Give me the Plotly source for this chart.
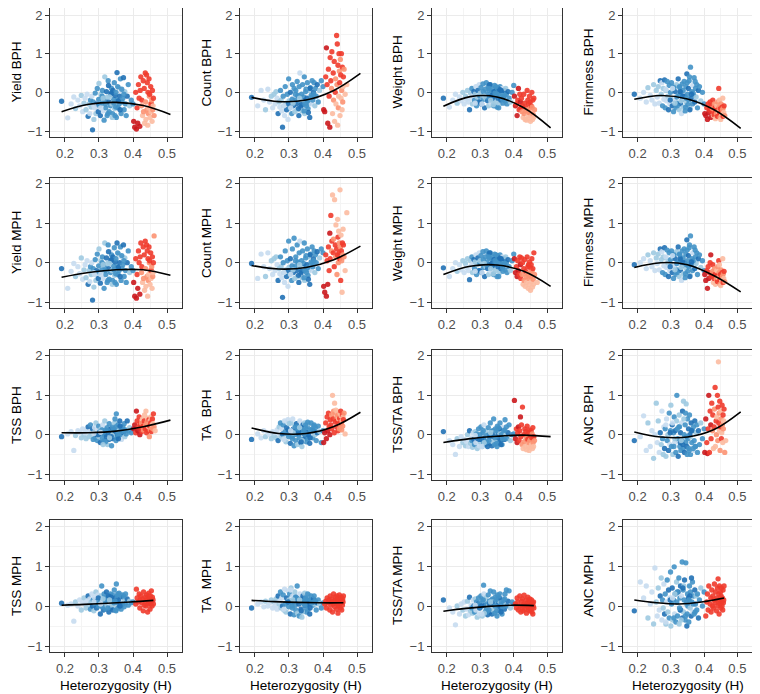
import plotly.graph_objects as go

# heterozygosity of the two groups (shared by all panels)
blue_x = [
    0.190, 0.208, 0.218, 0.226, 0.231, 0.238, 0.243, 0.248, 0.252, 0.256,
    0.259, 0.262, 0.265, 0.268, 0.271, 0.273, 0.275, 0.277, 0.279, 0.281,
    0.283, 0.285, 0.287, 0.289, 0.291, 0.293, 0.295, 0.297, 0.299, 0.300,
    0.302, 0.304, 0.306, 0.308, 0.310, 0.311, 0.313, 0.315, 0.317, 0.318,
    0.320, 0.322, 0.324, 0.325, 0.327, 0.329, 0.330, 0.332, 0.334, 0.335,
    0.337, 0.338, 0.340, 0.341, 0.343, 0.345, 0.346, 0.348, 0.350, 0.351,
    0.353, 0.354, 0.356, 0.358, 0.359, 0.361, 0.363, 0.365, 0.366, 0.368,
    0.370, 0.372, 0.374, 0.376, 0.378, 0.380, 0.383, 0.386, 0.390, 0.395,
    0.298, 0.309, 0.319, 0.328, 0.339, 0.349, 0.357, 0.367, 0.285, 0.312,
    0.326, 0.336, 0.344, 0.355, 0.362, 0.331, 0.305, 0.347, 0.373, 0.400,
]
blue_shade = [
    4, 1, 1, 1, 2, 1, 1, 2, 1, 2,
    1, 2, 1, 4, 2, 1, 3, 2, 1, 4,
    3, 2, 1, 3, 2, 4, 3, 1, 3, 2,
    3, 4, 2, 3, 3, 1, 4, 3, 2, 3,
    3, 4, 3, 2, 3, 4, 3, 1, 3, 4,
    3, 2, 3, 4, 3, 3, 2, 4, 3, 3,
    4, 3, 3, 2, 3, 4, 3, 3, 1, 3,
    3, 4, 3, 2, 3, 3, 4, 3, 2, 3,
    4, 3, 3, 4, 2, 3, 4, 3, 1, 2,
    3, 4, 3, 3, 4, 2, 1, 3, 3, 3,
]
red_x = [
    0.402, 0.405, 0.408, 0.410, 0.412, 0.414, 0.416, 0.418, 0.420, 0.421,
    0.423, 0.425, 0.426, 0.428, 0.430, 0.431, 0.433, 0.434, 0.436, 0.437,
    0.438, 0.440, 0.441, 0.442, 0.443, 0.444, 0.445, 0.446, 0.447, 0.448,
    0.449, 0.450, 0.451, 0.452, 0.453, 0.454, 0.455, 0.456, 0.457, 0.458,
    0.459, 0.460, 0.462, 0.465, 0.470,
]
red_shade = [
    4, 4, 3, 4, 3, 4, 3, 3, 4, 3,
    3, 2, 3, 1, 3, 2, 3, 1, 3, 2,
    1, 3, 2, 3, 1, 3, 2, 1, 3, 2,
    3, 1, 2, 3, 1, 3, 2, 1, 3, 2,
    1, 3, 2, 1, 1,
]

yield_bph_blue = [
    -0.23, -0.66, -0.30, -0.12, -0.42, -0.20, -0.35, -0.08, -0.50, -0.28,
    -0.15, -0.45, -0.05, -0.62, -0.30, -0.55, -0.20, -0.38, -0.10, -0.97,
    -0.25, -0.70, -0.40, -0.02, -0.55, -0.30, 0.10, -0.45, -0.18, 0.23,
    -0.35, -0.60, -0.05, -0.28, 0.05, -0.48, -0.15, -0.72, 0.40, -0.22,
    -0.40, 0.02, -0.60, -0.12, 0.30, -0.25, -0.50, 0.15, -0.35, -0.05,
    0.10, -0.30, -0.55, 0.05, -0.18, 0.25, -0.42, -0.08, 0.00, -0.65,
    0.51, -0.20, -0.40, 0.12, -0.30, -0.10, 0.35, -0.55, 0.05, -0.25,
    -0.15, 0.38, -0.45, 0.02, -0.30, -0.60, -0.10, 0.20, -0.35, -0.20,
    -0.50, -0.10, -0.30, 0.18, -0.65, -0.38, -0.22, 0.08, -0.35, -0.15,
    -0.55, -0.02, -0.28, 0.15, -0.45, -0.12, -0.40, -0.60, -0.05, -0.30,
]
yield_bph_red = [
    -0.75, -0.90, 0.00, -0.95, -0.40, -0.80, 0.20, -0.15, -0.88, 0.05,
    0.40, -0.35, -0.20, -0.60, 0.30, -0.50, 0.10, -0.80, 0.50, -0.25,
    -0.70, 0.45, -0.45, 0.25, -0.85, 0.00, -0.55, -0.40, 0.35, -0.10,
    -0.05, -0.65, -0.30, 0.15, -0.50, -0.30, -0.20, -0.75, 0.05, -0.45,
    -0.35, -0.15, -0.60, None, None,
]
count_bph_blue = [
    -0.13, -0.35, 0.05, -0.20, -0.45, 0.08, -0.25, -0.10, -0.40, -0.05,
    -0.30, 0.02, -0.15, -0.55, -0.25, -0.38, 0.05, -0.20, -0.48, -0.90,
    -0.10, -0.35, -0.60, 0.15, -0.28, -0.45, -0.05, -0.70, 0.35, -0.22,
    -0.40, 0.00, -0.25, -0.55, 0.20, -0.15, -0.35, 0.10, -0.50, -0.20,
    0.05, -0.30, 0.28, -0.45, -0.10, -0.60, 0.15, 0.50, -0.25, -0.38,
    -0.05, -0.48, 0.20, -0.30, -0.12, 0.40, -0.55, -0.20, 0.08, -0.35,
    -0.15, 0.25, -0.42, 0.05, -0.28, -0.65, 0.12, -0.08, -0.30, 0.30,
    -0.20, 0.00, 0.25, -0.35, 0.10, -0.10, 0.20, -0.25, 0.05, 0.30,
    -0.30, -0.18, -0.05, -0.42, -0.25, 0.02, -0.52, -0.12, -0.35, -0.28,
    -0.08, -0.32, -0.48, -0.22, 0.10, -0.15, -0.40, -0.30, -0.05, 0.15,
]
count_bph_red = [
    -0.45, -0.50, 0.40, 1.15, 0.20, -0.80, 0.60, -0.10, -0.90, 0.90,
    0.30, 0.10, 1.05, -0.55, 0.50, -0.20, 0.80, -0.75, 0.00, 0.35,
    -0.30, 1.47, 0.20, 1.25, -0.85, 0.70, -0.40, -0.10, 1.00, 0.55,
    0.25, -0.60, 0.85, 0.45, -0.15, 1.00, 0.05, -0.45, 0.65, -0.25,
    0.15, 0.40, 0.60, -0.05, 0.20,
]
weight_bph_blue = [
    -0.15, -0.38, -0.20, -0.05, -0.28, -0.12, -0.22, 0.00, -0.30, -0.10,
    -0.18, 0.05, -0.25, -0.45, -0.02, -0.15, 0.10, -0.30, -0.08, 0.02,
    -0.20, -0.05, 0.15, -0.35, -0.12, 0.05, -0.25, 0.20, -0.10, -0.02,
    0.12, -0.30, -0.08, 0.22, -0.18, 0.00, -0.40, 0.08, -0.15, 0.25,
    -0.05, -0.22, 0.15, -0.35, 0.05, -0.12, 0.20, -0.28, 0.00, -0.08,
    0.10, -0.20, -0.35, 0.02, 0.18, -0.10, -0.25, 0.05, -0.38, 0.12,
    -0.15, 0.08, -0.05, -0.30, 0.15, -0.20, 0.00, -0.12, 0.10, -0.28,
    -0.10, 0.05, -0.22, 0.10, -0.05, -0.30, 0.02, -0.15, -0.25, 0.00,
    -0.25, 0.02, -0.12, 0.20, -0.32, -0.05, 0.08, -0.18, -0.28, -0.10,
    0.10, -0.15, -0.02, -0.40, 0.05, -0.20, -0.30, 0.15, -0.08, 0.18,
]
weight_bph_red = [
    -0.10, -0.35, -0.30, -0.60, -0.20, 0.10, -0.45, -0.05, -0.25, -0.40,
    -0.15, -0.50, -0.35, -0.65, -0.05, -0.55, -0.28, -0.70, -0.40, -0.48,
    -0.72, 0.05, -0.45, -0.20, -0.60, -0.30, -0.52, -0.68, -0.10, -0.42,
    -0.25, -0.75, -0.55, -0.35, -0.62, 0.00, -0.38, -0.70, -0.20, -0.58,
    -0.65, -0.15, -0.45, None, None,
]
firmness_bph_blue = [
    -0.05, -0.15, 0.00, -0.25, 0.12, -0.08, -0.20, 0.20, -0.30, 0.05,
    -0.12, 0.15, -0.28, 0.30, -0.05, 0.25, -0.35, 0.10, -0.18, 0.32,
    -0.40, 0.05, -0.22, 0.28, -0.10, -0.45, 0.18, -0.30, 0.00, -0.15,
    0.25, -0.35, 0.08, -0.50, 0.15, -0.20, 0.02, -0.40, 0.20, -0.12,
    -0.28, 0.35, -0.08, -0.45, 0.12, -0.30, 0.00, -0.55, 0.22, -0.18,
    0.05, -0.38, 0.28, -0.10, -0.48, 0.15, -0.25, 0.48, -0.05, -0.32,
    0.10, -0.20, 0.40, -0.42, 0.65, -0.15, 0.02, -0.30, 0.18, -0.08,
    0.38, -0.25, 0.10, -0.12, 0.20, -0.40, 0.05, 0.15, -0.22, 0.00,
    -0.20, 0.12, -0.35, 0.02, -0.15, 0.25, -0.45, -0.02, 0.08, -0.28,
    0.15, -0.10, -0.38, 0.30, -0.05, -0.22, 0.10, -0.15, 0.28, -0.30,
]
firmness_bph_red = [
    -0.55, -0.60, -0.40, -0.70, -0.30, -0.52, -0.45, -0.25, -0.65, -0.35,
    -0.50, -0.42, -0.20, -0.60, -0.58, -0.30, -0.40, -0.68, -0.48, -0.55,
    -0.35, -0.62, -0.25, -0.45, -0.50, 0.10, -0.38, -0.20, -0.55, -0.65,
    -0.42, -0.70, -0.30, -0.50, -0.58, -0.38, -0.45, -0.15, -0.62, -0.40,
    -0.52, -0.35, -0.60, None, None,
]
yield_mph_blue = [
    -0.15, -0.65, -0.22, -0.02, -0.35, -0.10, -0.28, 0.12, -0.42, -0.18,
    -0.05, -0.38, 0.05, -0.55, -0.20, -0.48, -0.10, -0.30, 0.00, -0.95,
    -0.15, -0.62, -0.30, 0.08, -0.45, -0.20, 0.22, -0.35, -0.08, 0.35,
    -0.25, -0.52, 0.05, -0.18, 0.15, -0.40, -0.05, -0.65, 0.50, -0.12,
    -0.30, 0.12, -0.50, -0.02, 0.45, -0.15, -0.42, 0.28, -0.25, 0.05,
    0.20, -0.20, -0.45, 0.15, -0.08, 0.38, -0.32, 0.02, 0.10, -0.55,
    0.50, -0.10, -0.30, 0.22, -0.20, 0.00, 0.40, -0.45, 0.15, -0.15,
    -0.05, 0.45, -0.35, 0.12, -0.20, -0.50, 0.00, 0.30, -0.25, -0.10,
    -0.40, 0.00, -0.20, 0.28, -0.55, -0.28, -0.12, 0.18, -0.25, -0.05,
    -0.45, 0.08, -0.18, 0.25, -0.35, -0.02, -0.30, -0.50, 0.05, -0.20,
]
yield_mph_red = [
    -0.50, -0.85, 0.10, -0.90, -0.30, -0.65, 0.30, 0.00, -0.80, 0.15,
    0.50, -0.25, -0.10, -0.50, 0.40, -0.40, 0.20, -0.70, 0.55, -0.15,
    -0.60, 0.45, -0.35, 0.30, -0.85, 0.10, -0.45, -0.30, 0.40, 0.00,
    0.05, -0.55, -0.20, 0.25, -0.40, -0.20, -0.10, -0.65, 0.15, -0.35,
    -0.25, 0.00, 0.68, None, None,
]
count_mph_blue = [
    -0.02, -0.40, 0.22, -0.10, -0.35, 0.25, -0.15, 0.05, -0.30, 0.10,
    -0.20, 0.15, -0.05, -0.45, -0.15, -0.28, 0.15, -0.10, -0.38, -0.88,
    0.00, -0.25, -0.50, 0.30, -0.18, -0.35, 0.05, -0.60, 0.55, -0.12,
    -0.30, 0.10, -0.15, -0.45, 0.35, -0.05, -0.25, 0.62, -0.40, -0.10,
    0.15, -0.20, 0.45, -0.35, 0.00, -0.50, 0.25, 0.55, -0.15, -0.28,
    0.05, -0.38, 0.30, -0.20, -0.02, 0.50, -0.45, -0.10, 0.18, -0.25,
    -0.05, 0.35, -0.32, 0.15, -0.18, -0.55, 0.22, 0.02, -0.20, 0.40,
    -0.10, 0.10, 0.30, -0.25, 0.20, 0.00, 0.28, -0.15, 0.12, 0.35,
    -0.20, -0.08, 0.05, -0.32, -0.15, 0.12, -0.42, -0.02, -0.25, -0.18,
    0.02, -0.22, -0.38, -0.12, 0.20, -0.05, -0.30, -0.20, 0.05, 0.25,
]
count_mph_red = [
    -0.60, -0.75, 0.20, -0.85, 0.05, -0.55, 0.40, -0.20, 0.75, 0.10,
    1.20, 0.30, 0.55, 1.72, 0.25, 0.60, -0.10, 1.60, 0.45, 0.15,
    0.96, 0.35, -0.30, 0.20, 1.10, 0.65, 0.00, 0.80, 0.25, 0.50,
    0.10, 1.85, 0.40, -0.45, 0.70, 0.30, 0.05, -0.75, 0.50, 0.20,
    0.85, 0.45, 0.15, -0.20, 1.27,
]
weight_mph_blue = [
    -0.13, -0.35, -0.15, 0.00, -0.22, -0.05, -0.18, 0.05, -0.25, -0.02,
    -0.12, 0.10, -0.20, -0.43, 0.05, -0.08, 0.15, -0.25, 0.00, 0.08,
    -0.15, 0.02, 0.20, -0.30, -0.05, 0.12, -0.20, 0.25, -0.02, 0.05,
    0.18, -0.25, 0.00, 0.28, -0.12, 0.05, -0.35, 0.15, -0.10, 0.30,
    0.02, -0.15, 0.22, -0.30, 0.12, -0.05, 0.25, -0.22, 0.08, -0.02,
    0.15, -0.12, -0.30, 0.08, 0.22, -0.05, -0.20, 0.12, -0.35, 0.18,
    -0.10, 0.15, 0.02, -0.25, 0.20, -0.15, 0.05, -0.05, 0.15, -0.22,
    -0.05, 0.10, -0.18, 0.15, 0.00, -0.25, 0.08, -0.10, -0.20, 0.05,
    -0.20, 0.08, -0.05, 0.25, -0.28, 0.02, 0.12, -0.12, -0.22, -0.02,
    0.15, -0.08, 0.05, -0.35, 0.10, -0.15, -0.25, 0.20, -0.02, 0.22,
]
weight_mph_red = [
    0.10, -0.25, -0.10, -0.35, 0.05, -0.20, -0.30, 0.15, -0.05, -0.40,
    0.12, -0.30, 0.00, -0.55, -0.15, -0.45, 0.08, -0.60, -0.22, -0.35,
    -0.50, 0.15, -0.28, -0.10, -0.65, -0.05, -0.40, -0.55, 0.02, -0.25,
    -0.12, -0.70, -0.35, -0.05, -0.48, 0.10, -0.20, -0.62, -0.15, -0.42,
    -0.55, 0.25, -0.30, None, -0.50,
]
firmness_mph_blue = [
    -0.05, 0.00, 0.10, -0.15, 0.20, 0.05, -0.10, 0.25, -0.20, 0.12,
    -0.02, 0.22, -0.18, 0.35, 0.08, 0.28, -0.25, 0.15, -0.08, 0.38,
    -0.30, 0.12, -0.12, 0.32, 0.00, -0.35, 0.25, -0.20, 0.08, -0.05,
    0.30, -0.25, 0.15, -0.40, 0.22, -0.10, 0.10, -0.30, 0.28, -0.02,
    -0.18, 0.40, 0.02, -0.35, 0.20, -0.20, 0.08, -0.45, 0.30, -0.08,
    0.12, -0.28, 0.35, 0.00, -0.38, 0.22, -0.15, 0.58, 0.05, -0.22,
    0.18, -0.10, 0.45, -0.32, 0.68, -0.05, 0.10, -0.20, 0.25, 0.00,
    0.40, -0.15, 0.15, -0.02, 0.25, -0.30, 0.10, 0.20, -0.12, 0.05,
    -0.10, 0.20, -0.25, 0.10, -0.05, 0.32, -0.35, 0.05, 0.15, -0.18,
    0.22, 0.00, -0.28, 0.38, 0.02, -0.12, 0.18, -0.05, 0.32, -0.20,
]
firmness_mph_red = [
    -0.30, -0.45, -0.20, -0.65, -0.10, -0.40, -0.25, 0.00, 0.20, -0.35,
    -0.28, -0.22, -0.05, -0.50, -0.40, -0.15, -0.30, -0.55, -0.35, -0.42,
    -0.20, -0.48, -0.10, -0.32, -0.38, 0.05, -0.25, -0.05, -0.45, -0.55,
    -0.30, -0.58, -0.18, -0.40, -0.45, -0.25, -0.35, 0.10, -0.50, -0.28,
    -0.40, -0.22, -0.48, None, None,
]
tss_bph_blue = [
    -0.05, 0.02, 0.08, -0.40, -0.02, 0.10, 0.05, -0.08, 0.15, 0.00,
    0.05, -0.10, 0.12, 0.20, -0.05, 0.08, 0.25, -0.02, 0.10, 0.15,
    -0.12, 0.05, 0.18, -0.08, 0.30, 0.00, -0.15, 0.10, 0.22, -0.05,
    0.08, -0.20, 0.15, 0.02, -0.10, 0.25, 0.05, -0.15, 0.35, 0.00,
    0.12, -0.05, 0.18, -0.25, 0.08, -0.12, 0.28, 0.02, -0.08, 0.15,
    -0.28, 0.05, 0.20, -0.10, 0.12, -0.02, 0.30, 0.08, -0.15, 0.53,
    0.02, -0.08, 0.25, 0.10, -0.05, 0.35, 0.00, 0.15, -0.12, 0.08,
    0.20, 0.05, 0.28, -0.05, 0.12, 0.02, 0.35, 0.10, 0.18, 0.05,
    0.00, 0.12, -0.18, 0.05, -0.02, 0.20, -0.10, 0.08, 0.03, -0.25,
    0.10, -0.05, 0.15, 0.02, 0.22, -0.08, 0.06, 0.40, 0.12, 0.15,
]
tss_bph_red = [
    0.15, 0.25, 0.05, 0.60, 0.35, 0.10, 0.20, 0.45, 0.00, 0.28,
    0.18, 0.30, 0.08, 0.40, 0.22, 0.12, 0.35, 0.50, 0.15, 0.25,
    0.60, 0.05, 0.32, 0.18, 0.42, 0.10, 0.28, 0.20, 0.38, -0.05,
    0.22, 0.35, 0.12, 0.30, 0.45, 0.08, 0.18, 0.25, 0.40, 0.15,
    0.28, 0.53, 0.20, 0.10, None,
]
ta_bph_blue = [
    -0.12, 0.02, -0.08, 0.10, -0.05, 0.05, 0.00, -0.10, 0.08, -0.02,
    0.05, -0.08, 0.12, -0.15, 0.20, 0.00, 0.30, -0.05, 0.15, 0.02,
    0.25, -0.10, 0.35, 0.08, -0.18, 0.18, 0.02, 0.38, -0.05, 0.28,
    0.10, -0.22, 0.30, 0.05, -0.10, 0.40, 0.15, -0.28, 0.22, 0.00,
    -0.15, 0.28, 0.08, -0.25, 0.20, 0.02, -0.08, 0.35, 0.12, -0.20,
    0.18, -0.30, 0.05, 0.25, -0.12, 0.10, 0.30, -0.05, 0.15, -0.18,
    0.05, 0.20, -0.10, 0.28, 0.00, -0.22, 0.12, 0.30, -0.02, 0.15,
    -0.08, 0.10, 0.25, 0.00, 0.18, -0.15, 0.05, 0.22, 0.08, -0.20,
    0.12, -0.05, 0.20, 0.08, -0.15, 0.25, 0.00, 0.10, -0.12, 0.05,
    0.15, -0.18, 0.02, 0.32, -0.08, 0.18, 0.10, 0.05, 0.22, 0.10,
]
ta_bph_red = [
    -0.20, 0.05, 0.30, -0.10, 0.45, 0.10, 0.55, 0.20, 0.00, 0.38,
    0.25, 0.50, 0.15, 1.00, 0.40, 0.60, 0.05, 0.80, 0.32, 0.55,
    0.62, 0.20, 0.45, 0.35, 0.58, 0.10, 0.50, 0.40, 0.28, 0.15,
    0.42, 0.55, 0.25, 0.60, 0.48, 0.30, 0.12, 0.35, 0.50, 0.22,
    0.45, 0.38, 0.55, 0.02, None,
]
tssta_bph_blue = [
    0.08, -0.15, -0.25, -0.50, -0.10, -0.30, -0.05, -0.20, -0.12, -0.28,
    -0.18, 0.00, -0.30, 0.10, -0.22, -0.08, -0.15, -0.32, 0.05, -0.12,
    -0.25, 0.08, -0.20, 0.02, -0.35, -0.10, 0.15, -0.28, 0.00, -0.18,
    0.20, -0.12, -0.30, 0.05, -0.20, 0.25, -0.08, -0.25, 0.10, -0.15,
    -0.02, -0.30, 0.18, -0.10, 0.00, -0.22, 0.30, -0.15, 0.08, -0.28,
    0.10, -0.18, 0.40, -0.05, -0.25, 0.15, -0.12, 0.02, -0.30, 0.22,
    -0.08, 0.12, -0.20, 0.05, 0.30, -0.15, 0.00, -0.25, 0.18, -0.05,
    0.10, -0.12, 0.38, -0.02, 0.20, -0.10, 0.05, 0.25, -0.15, 0.00,
    -0.12, 0.10, -0.18, -0.05, 0.05, -0.22, 0.15, -0.10, -0.02, -0.20,
    -0.15, 0.00, -0.08, 0.18, -0.25, 0.05, -0.30, 0.10, 0.12, 0.02,
]
tssta_bph_red = [
    0.87, -0.10, 0.15, -0.20, 0.05, 0.20, -0.15, 0.10, 0.45, -0.05,
    0.25, -0.25, 0.70, -0.35, 0.00, -0.18, 0.15, -0.30, 0.08, -0.10,
    -0.38, 0.22, -0.05, -0.12, -0.28, 0.05, -0.20, -0.40, 0.12, -0.15,
    -0.02, -0.32, -0.12, 0.10, -0.25, -0.08, 0.02, -0.35, 0.18, -0.20,
    -0.30, -0.05, -0.15, None, None,
]
anc_bph_blue = [
    -0.15, -0.05, 0.48, -0.40, 0.30, -0.30, 0.10, -0.60, 0.00, 0.80,
    -0.20, 0.35, -0.45, 0.05, -0.25, 0.60, -0.10, -0.50, 0.20, -0.35,
    0.15, -0.55, 0.40, -0.15, 0.00, -0.40, 0.55, -0.25, 0.10, 0.75,
    -0.30, 0.25, -0.50, 0.05, 0.45, -0.20, 0.10, -0.45, 0.35, 1.00,
    -0.10, -0.55, 0.20, 0.50, -0.30, 0.05, -0.40, 0.30, -0.15, 0.60,
    -0.35, 0.85, 0.00, -0.45, 0.25, -0.20, 0.78, -0.30, 0.40, -0.10,
    0.15, -0.35, 0.50, -0.05, -0.50, 0.30, -0.20, 0.10, -0.40, 0.20,
    -0.15, 0.35, -0.30, 0.05, 0.25, -0.45, 0.10, -0.25, 0.30, -0.10,
    0.05, -0.30, 0.15, -0.20, 0.40, -0.50, 0.00, -0.35, 0.25, -0.10,
    0.20, -0.25, 0.55, -0.40, 0.10, -0.15, 0.30, -0.05, -0.30, 0.15,
]
anc_bph_red = [
    -0.45, 0.40, -0.20, -0.48, 0.15, 1.00, -0.45, 0.60, 0.25, -0.10,
    0.80, 0.10, 0.50, -0.35, 0.20, 0.65, 1.20, -0.30, 0.35, 0.00,
    0.45, 1.00, -0.15, 0.70, 1.85, 0.30, 0.55, 0.10, 0.85, -0.40,
    0.20, 0.60, 0.40, -0.10, 0.05, 0.75, 0.25, -0.20, 0.50, 0.15,
    0.35, 0.65, -0.45, -0.15, None,
]
tss_mph_blue = [
    0.07, 0.02, 0.05, -0.38, 0.10, 0.00, 0.15, -0.10, 0.08, 0.20,
    0.05, -0.05, 0.12, 0.25, 0.02, 0.18, -0.08, 0.10, 0.30, 0.00,
    0.15, -0.12, 0.22, 0.05, 0.35, -0.05, 0.12, 0.28, 0.00, 0.18,
    0.08, -0.20, 0.25, 0.50, 0.02, 0.15, -0.10, 0.30, 0.05, 0.20,
    -0.08, 0.35, 0.10, 0.00, 0.22, -0.15, 0.15, 0.05, 0.30, -0.05,
    0.18, 0.02, 0.28, -0.10, 0.12, 0.40, 0.05, 0.20, -0.12, 0.55,
    0.10, 0.25, -0.05, 0.15, 0.32, 0.00, 0.20, -0.08, 0.12, 0.28,
    0.05, 0.22, -0.02, 0.15, 0.30, 0.08, 0.18, 0.02, 0.12, 0.08,
    0.20, -0.02, 0.12, 0.25, 0.05, -0.10, 0.15, 0.02, 0.10, 0.18,
    -0.05, 0.22, 0.08, 0.30, 0.00, 0.15, 0.05, 0.12, 0.25, 0.10,
]
tss_mph_red = [
    None, None, 0.05, 0.42, 0.20, None, 0.10, 0.30, -0.05, 0.15,
    0.25, None, 0.08, 0.18, -0.12, 0.35, 0.02, None, 0.22, 0.12,
    0.00, 0.28, None, 0.15, -0.15, 0.20, 0.05, 0.32, None, 0.10,
    0.18, -0.08, 0.25, 0.05, None, 0.38, 0.12, 0.00, 0.22, None,
    0.15, 0.05, None, None, None,
]
ta_mph_blue = [
    -0.05, 0.05, 0.10, -0.02, 0.12, 0.00, 0.08, 0.15, -0.05, 0.10,
    0.02, 0.18, -0.08, 0.25, 0.05, 0.12, 0.35, -0.05, 0.20, 0.00,
    0.28, -0.10, 0.42, 0.05, -0.15, 0.20, 0.10, 0.38, -0.02, 0.15,
    0.30, -0.20, 0.45, 0.08, -0.05, 0.25, 0.12, -0.22, 0.35, 0.02,
    -0.10, 0.22, 0.50, -0.18, 0.15, 0.05, -0.25, 0.30, 0.10, -0.08,
    0.18, -0.28, 0.08, 0.25, -0.12, 0.12, 0.32, 0.00, 0.15, -0.15,
    0.05, 0.20, -0.08, 0.28, 0.10, -0.20, 0.15, 0.25, 0.00, 0.12,
    0.02, 0.18, 0.25, 0.05, 0.12, -0.10, 0.08, 0.15, 0.05, -0.05,
    0.10, 0.00, 0.22, 0.12, -0.15, 0.20, 0.05, 0.08, -0.08, 0.15,
    0.18, -0.12, 0.05, 0.30, -0.05, 0.15, 0.40, 0.02, 0.10, 0.08,
]
ta_mph_red = [
    None, 0.05, 0.12, -0.05, 0.20, 0.08, None, 0.15, -0.10, 0.25,
    0.02, 0.10, 0.18, -0.15, 0.05, 0.30, 0.12, -0.02, 0.22, 0.08,
    0.15, -0.08, 0.25, 0.05, 0.10, -0.18, 0.18, 0.00, 0.12, 0.28,
    0.05, 0.20, -0.05, 0.15, 0.08, 0.22, -0.10, 0.12, 0.02, 0.18,
    0.10, 0.25, None, None, None,
]
tssta_mph_blue = [
    0.15, -0.05, -0.15, -0.47, 0.00, -0.20, 0.05, -0.10, 0.10, -0.25,
    -0.08, 0.12, -0.22, 0.22, -0.12, 0.02, -0.05, -0.18, 0.15, 0.00,
    -0.15, 0.18, -0.10, 0.10, -0.28, 0.05, 0.20, -0.20, 0.08, -0.05,
    0.25, 0.00, -0.25, 0.15, 0.52, 0.30, 0.02, -0.15, 0.20, -0.08,
    0.05, -0.22, 0.28, 0.00, 0.12, -0.15, 0.38, -0.05, 0.15, -0.20,
    0.18, -0.10, 0.35, 0.05, -0.18, 0.22, -0.02, 0.10, -0.25, 0.28,
    0.00, 0.20, -0.12, 0.12, 0.30, -0.05, 0.08, -0.20, 0.22, 0.05,
    0.15, -0.08, 0.30, 0.02, 0.40, 0.00, 0.12, 0.38, -0.05, 0.10,
    -0.05, 0.15, -0.15, 0.05, 0.10, -0.12, 0.20, -0.02, 0.02, -0.18,
    -0.10, 0.08, 0.00, 0.25, -0.15, 0.10, -0.20, 0.15, 0.18, 0.05,
]
tssta_mph_red = [
    None, 0.05, -0.05, 0.20, 0.10, -0.10, None, 0.25, 0.00, -0.15,
    0.12, -0.05, 0.18, -0.12, 0.05, 0.27, -0.08, 0.02, None, 0.15,
    -0.18, 0.08, -0.02, 0.22, 0.00, -0.10, 0.12, -0.05, 0.05, 0.18,
    -0.12, 0.10, 0.02, -0.08, 0.15, -0.15, 0.05, 0.08, -0.20, 0.00,
    0.10, -0.05, None, None, None,
]
anc_mph_blue = [
    -0.12, 0.60, 0.20, 0.50, -0.30, 0.05, 0.35, -0.45, 0.95, 0.10,
    -0.25, 0.45, -0.10, 0.25, 0.70, -0.35, 0.15, -0.05, 0.55, -0.20,
    0.30, -0.45, 0.10, 0.65, -0.15, 0.40, -0.30, 0.20, 0.85, -0.50,
    0.05, 0.45, -0.35, 0.15, 0.98, -0.20, 0.30, -0.40, 0.60, 0.10,
    -0.25, 0.35, 0.70, -0.45, 0.20, 0.50, -0.10, 0.25, 1.10, -0.30,
    0.40, -0.15, 0.15, 0.65, -0.35, 1.08, 0.05, -0.50, 0.30, 0.00,
    0.20, -0.40, 0.50, -0.05, 0.35, -0.25, 0.10, 0.60, -0.15, 0.25,
    -0.20, 0.40, 0.05, 0.25, -0.10, 0.30, -0.30, 0.15, 0.45, 0.00,
    0.15, -0.30, 0.35, -0.10, 0.50, -0.20, 0.25, 0.05, -0.40, 0.30,
    -0.05, 0.45, -0.25, 0.15, 0.70, -0.35, 0.20, 0.10, -0.15, 0.35,
]
anc_mph_red = [
    None, -0.25, 0.10, 0.30, -0.10, 0.50, None, 0.05, 0.20, -0.15,
    0.40, 0.00, 0.25, -0.05, 0.15, 0.55, 0.08, 0.35, None, -0.12,
    0.20, 0.45, 0.00, 0.68, 0.10, 0.30, -0.20, 0.50, 0.15, 0.05,
    0.35, -0.05, 0.25, 0.45, 0.10, 0.00, 0.20, -0.10, 0.40, 0.08,
    0.15, 0.50, None, None, None,
]

# quadratic fit lines
curve_x_long = [0.19, 0.27, 0.35, 0.43, 0.51]
curve_x_short = [0.19, 0.2575, 0.325, 0.3925, 0.46]
yield_bph_fit = [-0.50, -0.31, -0.26, -0.34, -0.57]
count_bph_fit = [-0.13, -0.24, -0.20, 0.04, 0.49]
weight_bph_fit = [-0.36, -0.11, -0.12, -0.40, -0.92]
firmness_bph_fit = [-0.18, -0.08, -0.17, -0.45, -0.93]
yield_mph_fit = [-0.37, -0.25, -0.18, -0.18, -0.32]
count_mph_fit = [-0.07, -0.16, -0.12, 0.07, 0.42]
weight_mph_fit = [-0.30, -0.09, -0.06, -0.22, -0.60]
firmness_mph_fit = [-0.12, 0.00, -0.05, -0.33, -0.74]
tss_bph_fit = [0.05, 0.05, 0.09, 0.20, 0.37]
ta_bph_fit = [0.17, 0.03, 0.03, 0.20, 0.57]
tssta_bph_fit = [-0.20, -0.10, -0.04, -0.01, -0.05]
anc_bph_fit = [0.07, -0.06, -0.06, 0.13, 0.58]
tss_mph_fit = [0.02, 0.04, 0.07, 0.10, 0.14]
ta_mph_fit = [0.14, 0.11, 0.09, 0.08, 0.08]
tssta_mph_fit = [-0.13, -0.06, -0.01, 0.02, 0.01]
anc_mph_fit = [0.15, 0.08, 0.05, 0.10, 0.20]

BLUES = {1: "#c6dbef", 2: "#9ecae1", 3: "#4292c6", 4: "#2171b5"}
REDS = {1: "#fcbba1", 2: "#fc9272", 3: "#ef3b2c", 4: "#cb181d"}

# label, blue y, red y, fit x, fit y, single red colour
panels = [
    ("Yield BPH", yield_bph_blue, yield_bph_red, curve_x_long, yield_bph_fit, False),
    ("Count BPH", count_bph_blue, count_bph_red, curve_x_long, count_bph_fit, False),
    ("Weight BPH", weight_bph_blue, weight_bph_red, curve_x_long, weight_bph_fit, False),
    ("Firmness BPH", firmness_bph_blue, firmness_bph_red, curve_x_long, firmness_bph_fit, False),
    ("Yield MPH", yield_mph_blue, yield_mph_red, curve_x_long, yield_mph_fit, False),
    ("Count MPH", count_mph_blue, count_mph_red, curve_x_long, count_mph_fit, False),
    ("Weight MPH", weight_mph_blue, weight_mph_red, curve_x_long, weight_mph_fit, False),
    ("Firmness MPH", firmness_mph_blue, firmness_mph_red, curve_x_long, firmness_mph_fit, False),
    ("TSS BPH", tss_bph_blue, tss_bph_red, curve_x_long, tss_bph_fit, False),
    ("TA\u00a0 BPH", ta_bph_blue, ta_bph_red, curve_x_long, ta_bph_fit, False),
    ("TSS/TA BPH", tssta_bph_blue, tssta_bph_red, curve_x_long, tssta_bph_fit, False),
    ("ANC BPH", anc_bph_blue, anc_bph_red, curve_x_long, anc_bph_fit, False),
    ("TSS MPH", tss_mph_blue, tss_mph_red, curve_x_short, tss_mph_fit, True),
    ("TA\u00a0 MPH", ta_mph_blue, ta_mph_red, curve_x_short, ta_mph_fit, True),
    ("TSS/TA MPH", tssta_mph_blue, tssta_mph_red, curve_x_short, tssta_mph_fit, True),
    ("ANC MPH", anc_mph_blue, anc_mph_red, curve_x_short, anc_mph_fit, True),
]

# the page body has an 8px margin, so the figure is 8px smaller and
# every pixel position below is measured in window coordinates
OFF = 8
W, H = 760 - OFF, 694 - OFF
col_px = [(50, 182), (240, 372), (432, 562), (623, 752)]
row_px = [(8, 137), (178, 308), (350, 480), (520, 652)]
# y ranges per row; the top row is squeezed a little so its "2" label fits
row_yrange = [(-1.155, 2.181), (-1.15, 2.15), (-1.15, 2.15), (-1.15, 2.15)]
ytitle_px = [16, 206, 397, 588]
FONT = "Liberation Sans, Arial, sans-serif"


def px_x(v):
    return (v - OFF) / W


def px_y(v):
    return 1 - (v - OFF) / H


fig = go.Figure()
annotations = []
layout = {}

for i, (label, by, ry, cx, cy, flat_red) in enumerate(panels):
    r, c = divmod(i, 4)
    n = i + 1
    xa, ya = f"x{n}", f"y{n}"

    fig.add_trace(go.Scatter(
        x=blue_x, y=by, mode="markers", xaxis=xa, yaxis=ya,
        marker=dict(size=5.3, color=[BLUES[s] for s in blue_shade], opacity=0.9, line_width=0),
        showlegend=False, hoverinfo="skip",
    ))
    red_cols = [REDS[3] if flat_red else REDS[s] for s in red_shade]
    fig.add_trace(go.Scatter(
        x=red_x, y=ry, mode="markers", xaxis=xa, yaxis=ya,
        marker=dict(size=5.3, color=red_cols, opacity=0.9, line_width=0),
        showlegend=False, hoverinfo="skip",
    ))
    fig.add_trace(go.Scatter(
        x=cx, y=cy, mode="lines", xaxis=xa, yaxis=ya,
        line=dict(color="black", width=1.6, shape="spline"),
        showlegend=False, hoverinfo="skip",
    ))

    x0, x1 = col_px[c]
    y0, y1 = row_px[r]
    common = dict(
        showline=True, mirror=True, linecolor="#333333", linewidth=1,
        ticks="outside", ticklen=4, tickcolor="#333333", tickwidth=1,
        tickfont=dict(size=13, color="#4d4d4d", family=FONT),
        gridcolor="#ebebeb", gridwidth=1, zeroline=False, automargin=False,
        ticklabeloverflow="allow",
    )
    layout["xaxis" if n == 1 else f"xaxis{n}"] = dict(
        common, domain=[px_x(x0), min(px_x(x1), 1)], range=[0.156, 0.544],
        tick0=0.2, dtick=0.1, anchor=ya,
        minor=dict(dtick=0.05, showgrid=True, gridcolor="#f4f4f4", gridwidth=0.6, ticks=""),
    )
    layout["yaxis" if n == 1 else f"yaxis{n}"] = dict(
        common, domain=[px_y(y1), min(px_y(y0), 1)], range=list(row_yrange[r]),
        tick0=0, dtick=1, anchor=xa,
        minor=dict(dtick=0.5, showgrid=True, gridcolor="#f4f4f4", gridwidth=0.6, ticks=""),
    )
    annotations.append(dict(
        text=label, textangle=-90, xref="paper", yref="paper",
        x=px_x(ytitle_px[c]), y=px_y((y0 + y1) / 2),
        xanchor="center", yanchor="middle", showarrow=False,
        font=dict(size=13.5, color="black", family=FONT),
    ))
    if r == 3:
        annotations.append(dict(
            text="Heterozygosity (H)", xref="paper", yref="paper",
            x=px_x((x0 + x1) / 2), y=px_y(685),
            xanchor="center", yanchor="middle", showarrow=False,
            font=dict(size=13.5, color="black", family=FONT),
        ))

fig.update_layout(
    width=W, height=H,
    margin=dict(l=0, r=0, t=0, b=0),
    paper_bgcolor="white", plot_bgcolor="white",
    font=dict(family=FONT),
    annotations=annotations,
    **layout,
)

fig.write_html("out.html")
